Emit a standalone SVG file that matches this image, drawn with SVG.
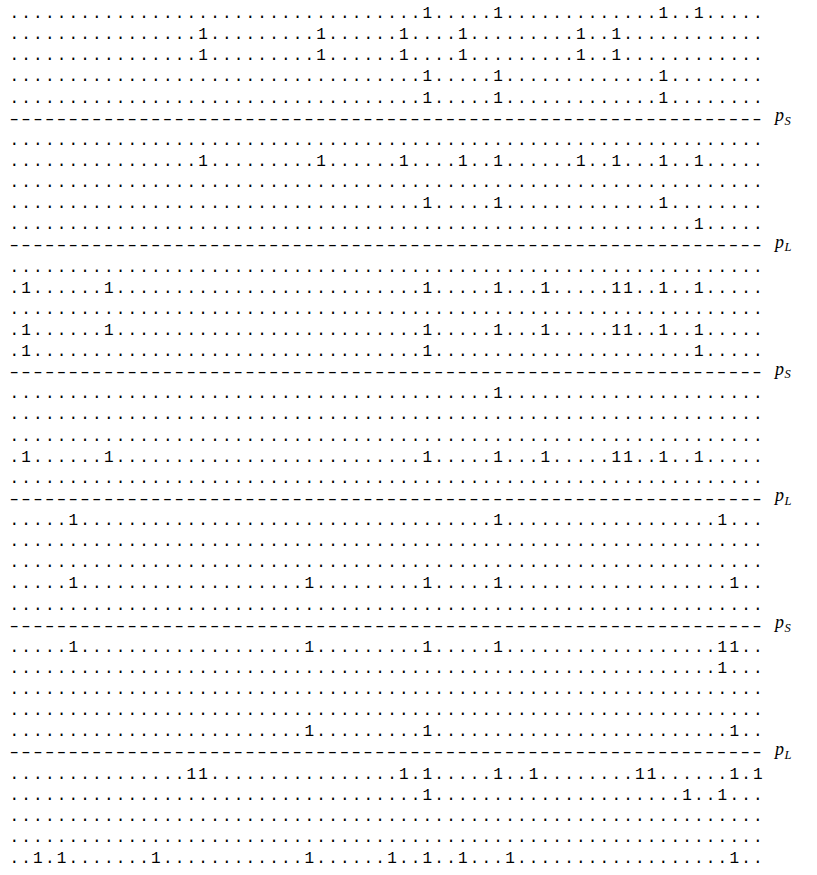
<svg xmlns="http://www.w3.org/2000/svg" width="817" height="875" viewBox="0 0 817 875">
<style>
.r{font-family:"Liberation Mono","DejaVu Sans Mono",monospace;font-size:16px;letter-spacing:2.2px;fill:#000}
.d{font-family:"Liberation Mono","DejaVu Sans Mono",monospace;font-size:16px;letter-spacing:-1.733px;fill:#000}
.l{font-family:"Liberation Serif","DejaVu Serif",serif;font-style:italic;font-size:18px;fill:#000}
.s{font-size:12.5px}
</style>
<rect width="817" height="875" fill="#fff"/>
<g id="rows">
<text class="r" x="9.5" y="18">...................................1.....1.............1..1.....</text>
<text class="r" x="9.5" y="39.13">................1.........1......1....1.........1..1............</text>
<text class="r" x="9.5" y="60.25">................1.........1......1....1.........1..1............</text>
<text class="r" x="9.5" y="81.38">...................................1.....1.............1........</text>
<text class="r" x="9.5" y="102.5">...................................1.....1.............1........</text>
<text class="r" x="9.5" y="144.75">................................................................</text>
<text class="r" x="9.5" y="165.88">................1.........1......1....1..1......1..1...1..1.....</text>
<text class="r" x="9.5" y="187">................................................................</text>
<text class="r" x="9.5" y="208.13">...................................1.....1.............1........</text>
<text class="r" x="9.5" y="229.25">..........................................................1.....</text>
<text class="r" x="9.5" y="271.5">................................................................</text>
<text class="r" x="9.5" y="292.63">.1......1..........................1.....1...1.....11..1..1.....</text>
<text class="r" x="9.5" y="313.75">................................................................</text>
<text class="r" x="9.5" y="334.88">.1......1..........................1.....1...1.....11..1..1.....</text>
<text class="r" x="9.5" y="356">.1.................................1......................1.....</text>
<text class="r" x="9.5" y="398.25">.........................................1......................</text>
<text class="r" x="9.5" y="419.38">................................................................</text>
<text class="r" x="9.5" y="440.5">................................................................</text>
<text class="r" x="9.5" y="461.63">.1......1..........................1.....1...1.....11..1..1.....</text>
<text class="r" x="9.5" y="482.75">................................................................</text>
<text class="r" x="9.5" y="525">.....1...................................1..................1...</text>
<text class="r" x="9.5" y="546.13">................................................................</text>
<text class="r" x="9.5" y="567.25">................................................................</text>
<text class="r" x="9.5" y="588.38">.....1...................1.........1.....1...................1..</text>
<text class="r" x="9.5" y="609.5">................................................................</text>
<text class="r" x="9.5" y="651.75">.....1...................1.........1.....1..................11..</text>
<text class="r" x="9.5" y="672.88">............................................................1...</text>
<text class="r" x="9.5" y="694">................................................................</text>
<text class="r" x="9.5" y="715.13">................................................................</text>
<text class="r" x="9.5" y="736.25">.........................1.........1.........................1..</text>
<text class="r" x="9.5" y="778.5">...............11................1.1.....1..1........11......1.1</text>
<text class="r" x="9.5" y="799.63">...................................1.....................1..1...</text>
<text class="r" x="9.5" y="820.75">................................................................</text>
<text class="r" x="9.5" y="841.88">................................................................</text>
<text class="r" x="9.5" y="863">..1.1.......1............1......1..1..1...1..................1..</text>
</g>
<g id="separators" transform="scale(1.5,1)">
<text class="d" x="4.73" y="123.63">----------------------------------------------------------------</text>
<text class="d" x="4.73" y="250.38">----------------------------------------------------------------</text>
<text class="d" x="4.73" y="377.13">----------------------------------------------------------------</text>
<text class="d" x="4.73" y="503.88">----------------------------------------------------------------</text>
<text class="d" x="4.73" y="630.63">----------------------------------------------------------------</text>
<text class="d" x="4.73" y="757.38">----------------------------------------------------------------</text>
</g>
<g id="labels">
<text class="l" x="775" y="121">p<tspan class="s" dx="0.5" dy="3.5">S</tspan></text>
<text class="l" x="775" y="247.5">p<tspan class="s" dx="0.5" dy="3.5">L</tspan></text>
<text class="l" x="775" y="374.5">p<tspan class="s" dx="0.5" dy="3.5">S</tspan></text>
<text class="l" x="775" y="501">p<tspan class="s" dx="0.5" dy="3.5">L</tspan></text>
<text class="l" x="775" y="628">p<tspan class="s" dx="0.5" dy="3.5">S</tspan></text>
<text class="l" x="775" y="755">p<tspan class="s" dx="0.5" dy="3.5">L</tspan></text>
</g>
</svg>
